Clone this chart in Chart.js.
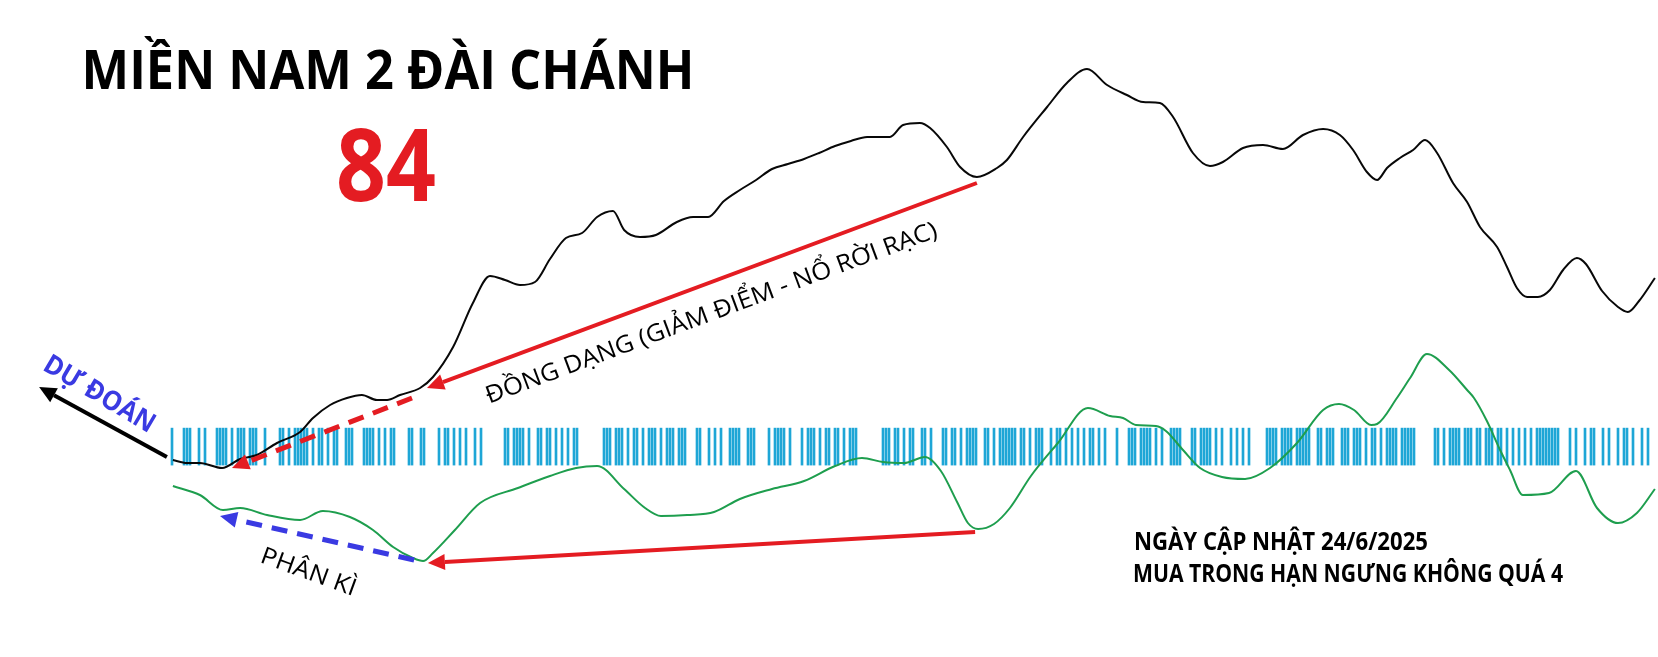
<!DOCTYPE html>
<html>
<head>
<meta charset="utf-8">
<script src="https://cdn.jsdelivr.net/npm/chart.js@4.4.1/dist/chart.umd.min.js"></script>
<style>
  html, body { margin: 0; padding: 0; background: #fff; }
  canvas { display: block; }
</style>
</head>
<body>
<canvas id="myChart" width="1658" height="657"></canvas>
<script>
// ky quay (index) -> diem
const blackX = [4.3,9,13.3,20.7,26.7,32.3,39,46.7,51,56.7,62.3,67.3,72.3,75.7,80,86.7,91,97.7,104.3,110,115,120,125,130,135.3,140.7,145.7,151,154.7,160,165.3,172.3,177.7,182.7,188,193.3,198.7,204,209.3,214.7,219.7,225,230.3,235.7,240,243.3,247.7,253.3,256.7,262.3,266.7,272.3,279,282.3,287.7,295.7,302.3,309,315.7,322.3,327.7,333.3,337.7,344.3,350,354.3,361,367.7,374.3,381,387.7,393.3,397.7,402.3,405.7,409,413.3,417.7,421.7,425.7,431,435.7,440,445.7,449,452.3,455.7,459.3,463.3,467.7,472.3,475.3,480.7,486,489.3,493,498.3];
const blackY = [35,34.25,34.25,33,35.25,36.25,39.25,42,45.5,48.75,50.5,51.25,50,50,51.25,53,55.75,63.25,74.25,81,80,78.75,79.5,85.25,90.5,91.75,95.75,97.25,92.5,90.75,91.25,94.5,95.75,95.75,99.75,102.5,105,107.75,109,110.25,111.75,113.5,114.75,115.75,115.75,115.75,118.75,119.25,118,113.25,108.25,105.75,108,110,115.75,123.25,129.25,132.75,128.75,126.25,124.5,124.25,120.75,111.75,108.5,109.5,113,113.75,112.75,116.25,117.75,116.25,112.5,107,105,108,110.5,112.5,115,111.75,104.25,99.5,93.25,88.25,83.25,78,75.75,75.75,77.5,82.5,85.5,84,77.25,73.25,72,74.75,80.5];

const greenX = [4.3,13.3,21,26.7,35.7,46.7,54.3,63.3,71,77.7,84.3,87.7,91,98.3,106.7,119.3,130,138.7,145.7,154.7,161.7,167,175.7,184.7,193.3,204,214.7,225,234,241,248,255,260.3,265.7,269.3,272.7,278,283.3,290.3,299.3,309.3,316.7,321,325.3,332,335.3,341,346.7,354,361.7,370,379,387.7,393,398,403.7,405.7,412.3,416.7,422.3,429.7,435.7,438,442.3,446.7,450,454.3,463,472,479,486,492.3,498.3];
const greenY = [28.5,26.25,22.5,23,21.25,20,22.25,20.75,17.5,13.25,10.5,9.75,11.75,17.5,24.25,28,31,33,33.5,27.75,23,21,21.25,22,25.25,27.75,29.75,33.5,35.5,34.5,34.25,35.75,32.25,24.5,19.25,17.75,19,23,31,39.25,48,46,45.5,43.75,43.5,42.25,37.5,33,30.75,30.25,33,39.25,47.5,49,47.5,43.75,44,50.5,55.5,61.5,57.5,52.5,50.5,44.75,37.5,32.5,26.25,26.75,32.25,23,19.25,21.75,27.75];

// cac ky co vach xanh
const barIdx = [4,8,9,10,13,15,19,20,21,22,24,26,27,28,30,31,32,35,40,41,43,45,46,47,48,49,51,53,54,56,58,59,62,63,64,68,69,70,71,73,75,77,78,83,84,87,88,93,95,96,98,100,102,105,107,115,116,118,119,120,121,123,126,127,129,130,132,134,136,138,139,148,149,150,152,153,154,156,158,159,161,163,164,165,167,169,170,171,173,174,175,179,180,183,185,187,190,191,192,193,196,197,198,203,205,206,207,208,210,214,216,217,218,220,222,223,225,226,228,230,231,232,241,242,243,245,246,248,250,251,254,255,257,261,262,264,265,267,269,270,271,272,275,276,278,280,281,282,283,284,285,287,288,290,292,293,294,297,299,300,302,304,306,308,310,311,313,315,319,323,324,325,327,328,329,330,332,334,337,338,339,340,344,345,347,348,349,350,352,354,357,359,361,363,369,370,371,372,374,375,376,377,379,380,381,382,383,386,387,389,390,391,394,395,396,398,399,400,402,404,405,407,409,410,411,412,414,415,416,417,418,425,426,428,430,431,432,433,435,436,437,439,440,442,443,444,446,447,449,451,453,455,457,459,460,461,462,463,464,465,466,470,472,475,477,478,481,483,486,488,489,491,494,496];

const RED = 'rgb(228,28,34)';
const BLUE = 'rgb(58,58,226)';

// mui ten chu thich (theo don vi du lieu)
const arrows = [
  {from:[2.3,35.75], to:[-40.3,53.25], color:'#000', w:4, dash:[]},
  {from:[84,50.5], to:[24,33], color:RED, w:5, dash:[16,10]},
  {from:[272.3,104.25], to:[89,53], color:RED, w:4, dash:[]},
  {from:[271.7,17], to:[89.3,9.25], color:RED, w:4, dash:[]},
  {from:[84.7,10], to:[20,21], color:BLUE, w:5, dash:[16,10]}
];

function pts(xs, ys){ return xs.map((x,i)=>({x:x, y:ys[i]})); }

function setAttributes(el, attrs){ for (const k in attrs) el.setAttribute(k, attrs[k]); }

// ve chu, co giu tam, xoay, ep ngang cho vua be rong
function fitText(ctx, txt, cx, cy, w, size, weight, color, angleDeg){
  ctx.save();
  ctx.font = weight + ' ' + size + 'px "Open Sans", "Noto Sans", sans-serif';
  const m = ctx.measureText(txt).width;
  ctx.translate(cx, cy);
  ctx.rotate((angleDeg||0) * Math.PI/180);
  ctx.scale(w/m, 1);
  ctx.fillStyle = color;
  ctx.textAlign = 'center';
  ctx.textBaseline = 'alphabetic';
  ctx.fillText(txt, 0, size*0.357);
  ctx.restore();
}

function drawArrow(ctx, x1, y1, x2, y2, color, w, dash){
  const a = Math.atan2(y2-y1, x2-x1);
  const hl = 17, hw = 8;
  const bx = x2 - Math.cos(a)*hl, by = y2 - Math.sin(a)*hl;
  ctx.save();
  ctx.strokeStyle = color; ctx.fillStyle = color;
  ctx.lineWidth = w; ctx.setLineDash(dash);
  ctx.beginPath(); ctx.moveTo(x1,y1); ctx.lineTo(bx,by); ctx.stroke();
  ctx.setLineDash([]);
  ctx.beginPath();
  ctx.moveTo(x2,y2);
  ctx.lineTo(bx - Math.sin(a)*hw, by + Math.cos(a)*hw);
  ctx.lineTo(bx + Math.sin(a)*hw, by - Math.cos(a)*hw);
  ctx.closePath(); ctx.fill();
  ctx.restore();
}

const notes = {
  id: 'notes',
  afterDatasetsDraw(chart){
    const ctx = chart.ctx, sx = chart.scales.x, sy = chart.scales.y;
    arrows.forEach(a => {
      drawArrow(ctx, sx.getPixelForValue(a.from[0]), sy.getPixelForValue(a.from[1]),
        sx.getPixelForValue(a.to[0]), sy.getPixelForValue(a.to[1]), a.color, a.w, a.dash);
    });
    fitText(ctx, 'MIỀN NAM 2 ĐÀI CHÁNH', 388, 70, 613, 53, 'bold', '#000', 0);
    fitText(ctx, '84', 386, 165, 100, 100, 'bold', RED, 0);
    fitText(ctx, 'DỰ ĐOÁN', 100, 393, 125, 27, 'bold', BLUE, 30.8);
    fitText(ctx, 'ĐỒNG DẠNG (GIẢM ĐIỂM - NỔ RỜI RẠC)', 711, 312, 480, 24, 'normal', '#000', -20.4);
    fitText(ctx, 'PHÂN KÌ', 309, 571, 100, 24, 'normal', '#000', 20);
    fitText(ctx, 'NGÀY CẬP NHẬT 24/6/2025', 1281, 541, 294, 25, 'bold', '#000', 0);
    fitText(ctx, 'MUA TRONG HẠN NGƯNG KHÔNG QUÁ 4', 1348, 573, 430, 25, 'bold', '#000', 0);
  }
};

const canvasEl = document.getElementById('myChart');
setAttributes(canvasEl, {width:1658, height:657});

const myChart = new Chart(canvasEl, {
  type: 'line',
  data: {
    datasets: [
      {
        label: 'Duong chinh',
        data: pts(blackX, blackY),
        borderColor: 'rgb(8,8,8)',
        borderWidth: 2,
        pointRadius: 0,
        cubicInterpolationMode: 'monotone',
        order: 1
      },
      {
        label: 'Duong phu',
        data: pts(greenX, greenY),
        borderColor: 'rgb(30,158,78)',
        borderWidth: 2,
        pointRadius: 0,
        cubicInterpolationMode: 'monotone',
        order: 1
      },
      {
        type: 'bar',
        label: 'Ky no',
        data: barIdx.map(i => ({x:i, y:1})),
        backgroundColor: 'rgb(30,166,214)',
        barThickness: 2,
        yAxisID: 'yb',
        order: 2
      }
    ]
  },
  options: {
    responsive: false,
    animation: false,
    devicePixelRatio: 1,
    layout: { padding: {left:160, right:1, top:40, bottom:57} },
    scales: {
      x: { type:'linear', min:0, max:499, offset:false, display:false },
      y: { min:0, max:140, display:false },
      yb: { min:-3.65, max:11.5, display:false }
    },
    plugins: {
      legend: { display:false },
      tooltip: { enabled:false }
    }
  },
  plugins: [notes]
});
</script>
</body>
</html>
